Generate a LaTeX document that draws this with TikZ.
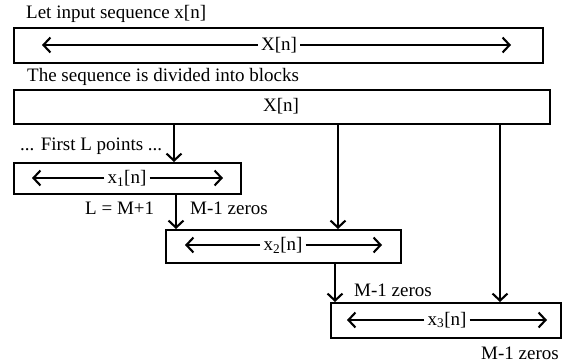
\documentclass[tikz,border=0pt]{standalone}
\usepackage{fontspec}
\setmainfont{Liberation Serif}
\usetikzlibrary{arrows.meta}
\begin{document}
\begin{tikzpicture}[x=1pt,y=-1pt,
  box/.style={draw, line width=1.7pt, anchor=north west, inner sep=0pt},
  arr/.style={-{Straight Barb[length=7pt,width=15pt,line width=2.1pt]}, line width=1.6pt},
  lbl/.style={font=\fontsize{19}{19}\selectfont, inner sep=0pt, anchor=west},
  mid/.style={font=\fontsize{19}{19}\selectfont, inner sep=3pt}]
\useasboundingbox (0,0) rectangle (562,362);
% boxes
\node[box, minimum width=529pt, minimum height=35pt] (b1) at (13,27) {};
\node[box, minimum width=536pt, minimum height=34pt] (b2) at (13,89) {};
\node[box, minimum width=227pt, minimum height=31pt] (b3) at (13,162) {};
\node[box, minimum width=235pt, minimum height=33pt] (b4) at (165,229) {};
\node[box, minimum width=230pt, minimum height=35pt] (b5) at (330,302) {};
% texts inside boxes
\node[mid] (t1) at (279,45) {X[n]};
\node[mid] (t2) at (281,106) {X[n]};
\node[mid] (t3) at (127,178) {x\textsubscript{1}[n]};
\node[mid] (t4) at (283,245) {x\textsubscript{2}[n]};
\node[mid] (t5) at (447,320) {x\textsubscript{3}[n]};
\coordinate (l1) at (42,45);  \coordinate (r1) at (511,45);
\coordinate (l3) at (32,178); \coordinate (r3) at (223,178);
\coordinate (l4) at (185,245); \coordinate (r4) at (382,245);
\coordinate (l5) at (347,320); \coordinate (r5) at (547,320);
\draw[arr] (t1.west) -- (l1);
\draw[arr] (t1.east) -- (r1);
\draw[arr] (t3.west) -- (l3);
\draw[arr] (t3.east) -- (r3);
\draw[arr] (t4.west) -- (l4);
\draw[arr] (t4.east) -- (r4);
\draw[arr] (t5.west) -- (l5);
\draw[arr] (t5.east) -- (r5);
% vertical connectors
\coordinate (va) at (174,0);
\coordinate (vb) at (338,0);
\coordinate (vc) at (500,0);
\coordinate (vd) at (176,0);
\coordinate (ve) at (335,0);
\draw[arr] (b2.south -| va) -- (b3.north -| va);
\draw[arr] (b2.south -| vb) -- (b4.north -| vb);
\draw[arr] (b2.south -| vc) -- (b5.north -| vc);
\draw[arr] (b3.south -| vd) -- (b4.north -| vd);
\draw[arr] (b4.south -| ve) -- (b5.north -| ve);
% labels
\node[lbl] (c1) at (26,14) {Let input sequence x[n]};
\node[lbl] (c2) at (27,77) {The sequence is divided into blocks};
\node[lbl] (c3) at (20,146) {... First L points ...};
\node[lbl] (c4) at (85,208) {L = M+1};
\node[lbl] (c5) at (190,208) {M-1 zeros};
\node[lbl] (c6) at (354,290) {M-1 zeros};
\node[lbl] (c7) at (481,353) {M-1 zeros};
\end{tikzpicture}
\end{document}
